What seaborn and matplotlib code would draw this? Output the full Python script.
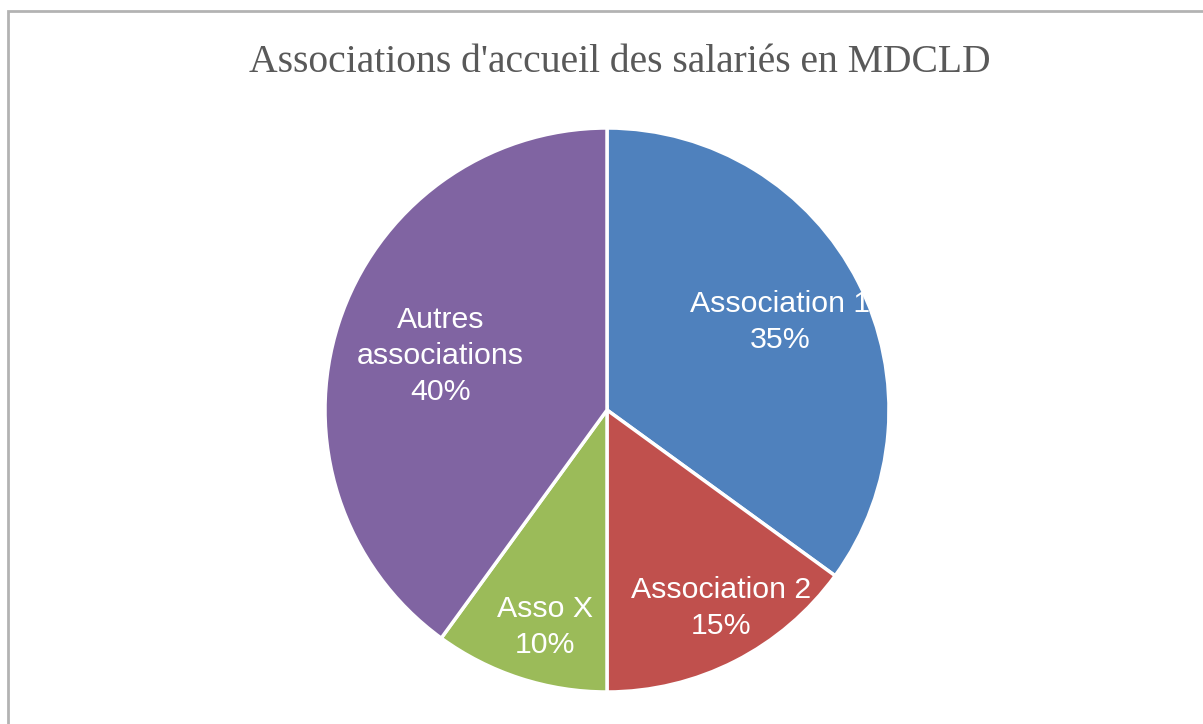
import numpy as np
import matplotlib.pyplot as plt
import seaborn as sns
from matplotlib.patches import Rectangle

# data
labels = ["Association 1", "Association 2", "Asso X", "Autres\nassociations"]
shares = [35, 15, 10, 40]
pct_text = ["35%", "15%", "10%", "40%"]
title = "Associations d'accueil des salariés en MDCLD"

sns.set_theme(style="white")
palette = sns.color_palette(["#4F81BD", "#C0504D", "#9BBB59", "#8064A2"])

fig = plt.figure(figsize=(12.03, 7.24), dpi=100)
W, H = 1203, 724

# outer frame of the chart area (cut off on right/bottom like the screenshot)
fig.add_artist(Rectangle((8 / W, -0.05), 1.1, (724 - 11) / H + 0.05,
                         transform=fig.transFigure, fill=False,
                         edgecolor="#b3b3b3", linewidth=2))

# square axes holding the pie
cx, cy, r = 607, 410, 282
ax = fig.add_axes([(cx - r) / W, (H - cy - r) / H, 2 * r / W, 2 * r / H])
wedges, _ = ax.pie(shares, colors=palette, startangle=90, counterclock=False,
                   radius=1.0,
                   wedgeprops=dict(edgecolor="white", linewidth=2.5))
ax.set_xlim(-1, 1)
ax.set_ylim(-1, 1)
ax.set_aspect("equal")
ax.axis("off")

# label placement (best-fit in the original): radial distance + small angle nudge
dists = [0.69, 0.81, 0.80, 0.621]
nudge = [0, 3, 2, 0]
for w, lab, pct, d, dn in zip(wedges, labels, pct_text, dists, nudge):
    ang = np.deg2rad((w.theta1 + w.theta2) / 2 + dn)
    ax.text(d * np.cos(ang), d * np.sin(ang), f"{lab}\n{pct}",
            ha="center", va="center", color="white", fontsize=21.8,
            family=["Liberation Sans", "DejaVu Sans"], linespacing=1.35)

fig.text(620 / W, 1 - 62 / H, title, ha="center", va="center",
         fontsize=28.5, color="#595959",
         family=["Liberation Serif", "DejaVu Serif"])

fig.savefig("out.png", dpi=100, facecolor="white")
